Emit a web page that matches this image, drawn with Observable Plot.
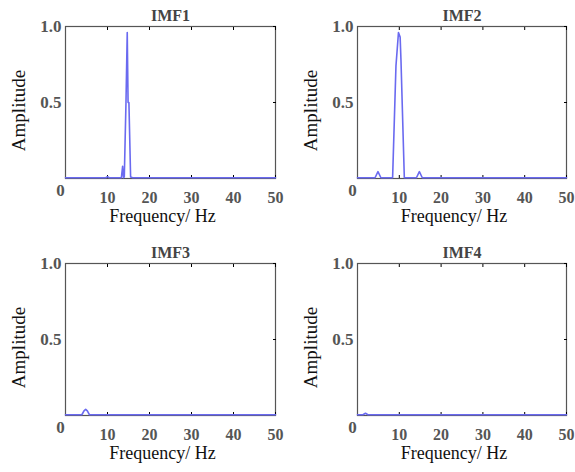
<!DOCTYPE html>
<html>
<head>
<meta charset="utf-8">
<script src="https://cdn.jsdelivr.net/npm/d3@7"></script>
<script src="https://cdn.jsdelivr.net/npm/@observablehq/plot@0.6"></script>
<style>
  body { margin: 0; background: #fff; width: 575px; height: 472px; position: relative; overflow: hidden; }
  .panel { position: absolute; }
  svg { overflow: visible; }
</style>
</head>
<body>
<div id="p1" class="panel" style="left:0px;top:0px"></div>
<div id="p2" class="panel" style="left:292px;top:0px"></div>
<div id="p3" class="panel" style="left:0px;top:237px"></div>
<div id="p4" class="panel" style="left:292px;top:237px"></div>
<script>
// Panel titles and axis text
const titles = ["IMF1", "IMF2", "IMF3", "IMF4"];
const xLabel = "Frequency/ Hz";
const yLabel = "Amplitude";
const xTicks = [10, 20, 30, 40, 50];
const yTicks = [0.5, 1.0];

// Spectrum series (frequency in Hz, amplitude)
const imf1Freq = [0, 9.6, 10, 10.4, 13.3, 13.6, 13.8, 14.0, 14.4, 14.7, 14.9, 15.1, 15.5, 16, 50];
const imf1Amp  = [0.005, 0.005, 0.012, 0.005, 0.005, 0.08, 0.005, 0.01, 0.5, 0.96, 0.5, 0.5, 0.01, 0.005, 0.005];

const imf2Freq = [0, 4.2, 4.9, 5.6, 8.4, 9.2, 9.8, 10.2, 10.4, 11.2, 14.1, 14.8, 15.5, 50];
const imf2Amp  = [0.005, 0.005, 0.045, 0.005, 0.005, 0.74, 0.96, 0.93, 0.78, 0.005, 0.005, 0.045, 0.005, 0.005];

const imf3Freq = [0, 3.9, 4.4, 4.8, 5.2, 5.7, 50];
const imf3Amp  = [0.005, 0.005, 0.03, 0.04, 0.03, 0.005, 0.005];

const imf4Freq = [0, 1.3, 1.9, 2.5, 50];
const imf4Amp  = [0.005, 0.005, 0.015, 0.005, 0.005];

const series = [[imf1Freq, imf1Amp], [imf2Freq, imf2Amp], [imf3Freq, imf3Amp], [imf4Freq, imf4Amp]];
const ids = ["p1", "p2", "p3", "p4"];

const lineColor = "#6a6af0";
const tickColor = "#555";

series.forEach(([fr, am], i) => {
  const data = fr.map((f, j) => ({f, a: am[j]}));
  const left = i % 2 === 0;
  const chart = Plot.plot({
    width: left ? 287 : 283,
    height: 236,
    marginLeft: 65,
    marginRight: left ? 12 : 9,
    marginTop: 26,
    marginBottom: 58,
    style: {fontFamily: "'Liberation Serif', 'Times New Roman', serif", background: "transparent"},
    x: {domain: [0, 50]},
    y: {domain: [0, 1]},
    marks: [
      Plot.frame({stroke: "#555", strokeWidth: 1.2}),
      Plot.axisX({ticks: xTicks, tickSize: -3, tickPadding: 16, fontSize: 16, fontWeight: "bold", fill: tickColor, label: null}),
      Plot.axisX({anchor: "top", ticks: xTicks, tickSize: -3, tickFormat: () => "", label: null}),
      Plot.axisY({ticks: yTicks, tickSize: 0, tickPadding: 4, tickFormat: d3.format(".1f"), fontSize: 17, fontWeight: "bold", fill: tickColor, label: null}),
      Plot.axisY({anchor: "right", ticks: yTicks, tickSize: -3, tickFormat: () => "", label: null}),
      Plot.text([0], {x: 0, y: 0, text: d => String(d), dx: -5, dy: 12, fontSize: 17, fontWeight: "bold", fill: tickColor}),
      Plot.line(data, {x: "f", y: "a", stroke: lineColor, strokeWidth: 1.6, curve: "linear"}),
      Plot.text([titles[i]], {frameAnchor: "top", lineAnchor: "middle", textAnchor: "middle", dy: -11, fontSize: 16, fontWeight: "bold", fill: "#444"}),
      Plot.text([xLabel], {frameAnchor: "bottom", lineAnchor: "middle", textAnchor: "middle", dy: 38, dx: -8, fontSize: 18, fill: "#111"}),
      Plot.text([yLabel], {frameAnchor: "left", lineAnchor: "middle", textAnchor: "middle", rotate: -90, dx: -47, dy: 8, fontSize: 19, fill: "#111"})
    ]
  });
  document.getElementById(ids[i]).appendChild(chart);
});
</script>
</body>
</html>
